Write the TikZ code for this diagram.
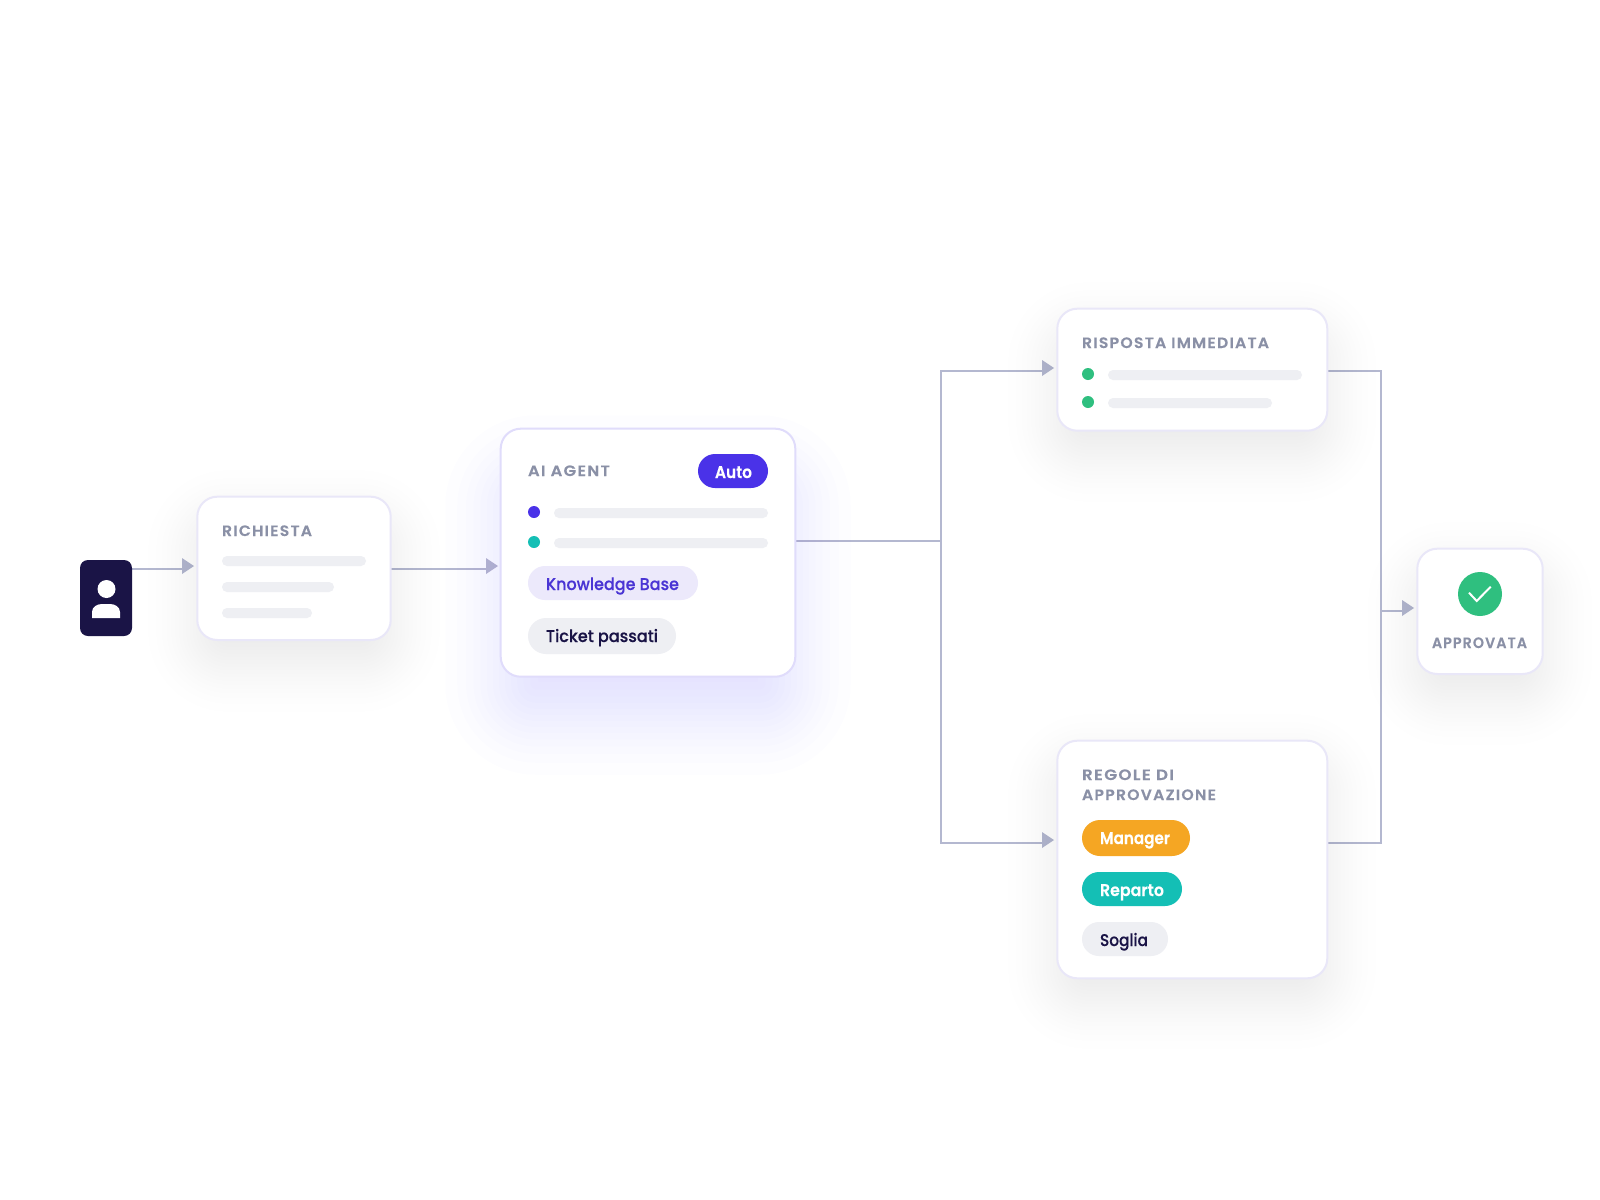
\documentclass[tikz,border=0pt]{standalone}
\usepackage{graphicx}
\usepackage{fontspec}
\setmainfont{Poppins}
\newfontfamily\fsemi{Poppins SemiBold}
\newfontfamily\fmed{Poppins Medium}
\definecolor{wirecol}{HTML}{B4B8D0}
\definecolor{navy}{HTML}{1A1446}
\definecolor{indigo}{HTML}{4A32E8}
\definecolor{indigotxt}{HTML}{4A35D4}
\definecolor{glow}{HTML}{6A32FF}
\definecolor{teal}{HTML}{14BFB5}
\definecolor{grn}{HTML}{2FBF7F}
\definecolor{amber}{HTML}{F5A623}
\definecolor{barcol}{HTML}{EEEFF3}
\definecolor{lilac}{HTML}{ECE9FB}
\definecolor{titlecol}{HTML}{8A90A6}
\definecolor{cardline}{HTML}{E9E7F8}
\definecolor{aiborder}{HTML}{E0DCFB}
\pgfdeclarelayer{wires}
\pgfdeclarelayer{shadows}
\pgfsetlayers{wires,shadows,main}
\tikzset{
  wire/.style={draw=wirecol,line width=1.5pt,line join=miter},
  cardbox/.style={draw=cardline,line width=1.5pt,fill=white},
  aibox/.style={draw=aiborder,line width=1.5pt,fill=white},
  barbox/.style={fill=barcol},
  dot/.style={circle,inner sep=0pt,outer sep=0pt,minimum size=9pt},
}
\newcommand\shapebox[7]{%
  \pgfmathsetmacro\bw{(#4-#2)*0.75}\pgfmathsetmacro\bh{(#5-#3)*0.75}\pgfmathsetmacro\br{#6*0.75}%
  \node[rectangle,inner sep=0pt,outer sep=0pt,minimum width=\bw pt,minimum height=\bh pt,rounded corners=\br pt,#7] (#1) at ({(#2+#4)/2},{(#3+#5)/2}) {};}
\newsavebox\lblbox
\newcommand\lbl[7]{%
  \node[anchor=base west,inner sep=0pt,outer sep=0pt,text=#6] (#1) at (#2,#3) {%
    \sbox\lblbox{#5#7}%
    \pgfmathsetmacro\sx{#4*0.75/\the\wd\lblbox}%
    \scalebox{\sx}[1]{#5#7}};}
\def\shN{24}
% layers spaced so that their sum follows a smoothstep ramp of half-width #8
\newcommand\softshadow[9]{%
  \foreach \k in {1,...,\shN}{%
    \pgfmathsetmacro\pp{(\k-0.5)/\shN}%
    \pgfmathsetmacro\ii{#8*2*sin(asin(1-2*\pp)/3)}%
    \pgfmathsetmacro\rr{max(#5+\ii,1)*0.75}%
    \fill[#6,opacity=#7,rounded corners=\rr pt] ({#1-\ii},{#2-\ii+#9}) rectangle ({#3+\ii},{#4+\ii+#9});
  }}
\newcommand\headtri[3]{% name, base x, centre y
  \coordinate (#1) at (#2,#3);
  \begin{pgfonlayer}{wires}\fill[wirecol] (#1) ++(0,-8) -- ++(12,8) -- ++(-12,8) -- cycle;\end{pgfonlayer}}
\def\ftitle{\fsemi\fontsize{11.25pt}{13.5pt}\selectfont\addfontfeatures{LetterSpace=8,FakeBold=0.25}}
\def\fpill{\fmed\fontsize{12.75pt}{15pt}\selectfont\addfontfeatures{FakeBold=0.25}}
\def\fpillb{\fsemi\fontsize{12.75pt}{15pt}\selectfont\addfontfeatures{FakeBold=0.25}}
\begin{document}
\begin{tikzpicture}[x=0.75pt,y=-0.75pt]
\useasboundingbox (0,0) rectangle (1600,1200);
\begin{pgfonlayer}{wires}\fill[white] (0,0) rectangle (1600,1200);\end{pgfonlayer}
% shadows
\begin{pgfonlayer}{shadows}
  \softshadow{198}{498}{390}{640}{30}{navy}{0.0039}{60}{22}
  \softshadow{1058}{310}{1326}{430}{30}{navy}{0.0039}{60}{22}
  \softshadow{1058}{742}{1326}{977}{30}{navy}{0.0039}{60}{22}
  \softshadow{1418}{550}{1542}{673}{30}{navy}{0.0039}{60}{22}
  \def\shN{16}
  \softshadow{502}{430}{794}{676}{34}{glow}{0.00785}{72}{42}
\end{pgfonlayer}
% user icon
\shapebox{icon}{80}{560}{132}{636}{8}{fill=navy}
\node[circle,fill=white,inner sep=0pt,minimum size=13.5pt] (headc) at (106.5,589) {};
\fill[white] (92,618) -- (92,612) .. controls (92,607) and (97,604) .. (102,604) -- (110,604) .. controls (115,604) and (120,607) .. (120,612) -- (120,618) -- cycle;
% Richiesta
\shapebox{richiesta}{197.3}{496.7}{390.7}{640}{20}{cardbox}
\lbl{tRich}{222}{536}{90}{\ftitle}{titlecol}{RICHIESTA}
\shapebox{b1}{222}{556}{366}{566}{5}{barbox}
\shapebox{b2}{222}{582}{334}{592}{5}{barbox}
\shapebox{b3}{222}{608}{312}{618}{5}{barbox}
% AI agent
\shapebox{ai}{500.7}{428.7}{795.3}{676.7}{20}{aibox}
\lbl{tAI}{528}{476}{82}{\ftitle}{titlecol}{AI AGENT}
\shapebox{pAuto}{698}{454}{768}{488}{17}{fill=indigo}
\lbl{tAuto}{715}{478}{37}{\fpillb}{white}{Auto}
\node[dot,fill=indigo] (dA) at (534,512) {};
\node[dot,fill=teal] (dB) at (534,542) {};
\shapebox{b4}{554}{508}{768}{518}{5}{barbox}
\shapebox{b5}{554}{538}{768}{548}{5}{barbox}
\shapebox{pKB}{528}{566}{698}{600}{17}{fill=lilac}
\lbl{tKB}{546}{590}{133}{\fpill}{indigotxt}{Knowledge Base}
\shapebox{pTP}{528}{618}{676}{654}{18}{fill=barcol}
\lbl{tTP}{546}{642}{112}{\fpill}{navy}{Ticket passati}
% Risposta
\shapebox{risposta}{1057.3}{308.7}{1327.3}{430.7}{20}{cardbox}
\lbl{tRis}{1082}{348}{187}{\ftitle}{titlecol}{RISPOSTA IMMEDIATA}
\node[dot,fill=grn] (dC) at (1088,374) {};
\node[dot,fill=grn] (dD) at (1088,402) {};
\shapebox{b6}{1108}{370}{1302}{380}{5}{barbox}
\shapebox{b7}{1108}{398}{1272}{408}{5}{barbox}
% Regole
\shapebox{regole}{1057.3}{740.7}{1327.3}{978.3}{20}{cardbox}
\lbl{tReg}{1082}{780}{92}{\ftitle}{titlecol}{REGOLE DI}
\lbl{tApp}{1082}{800}{134}{\ftitle}{titlecol}{APPROVAZIONE}
\shapebox{pMan}{1082}{820}{1190}{856}{18}{fill=amber}
\lbl{tMan}{1100}{844}{70}{\fpillb}{white}{Manager}
\shapebox{pRep}{1082}{872}{1182}{906}{17}{fill=teal}
\lbl{tRep}{1100}{896}{64}{\fpillb}{white}{Reparto}
\shapebox{pSog}{1082}{922}{1168}{956}{17}{fill=barcol}
\lbl{tSog}{1100}{946}{48}{\fpill}{navy}{Soglia}
% Approvata
\shapebox{approvata}{1417.3}{548.7}{1542.7}{674}{20}{cardbox}
\node[circle,fill=grn,inner sep=0pt,minimum size=33pt] (okc) at (1480,594) {};
\draw[white,line width=1.5pt] (1469,592.7) -- (1476.7,601) -- (1490.7,586.7);
\lbl{tOk}{1432}{648}{95}{\ftitle}{titlecol}{APPROVATA}
% connectors
\coordinate (yA) at (0,569);
\coordinate (yT) at (0,371);
\coordinate (yB) at (0,843);
\coordinate (yM) at (0,541);
\coordinate (yF) at (0,611);
\coordinate (trunkL) at (941,0);
\coordinate (trunkR) at (1381,0);
\headtri{h1}{182}{566}
\headtri{h2}{486}{566}
\headtri{h3}{1042}{368}
\headtri{h4}{1042}{840}
\headtri{h5}{1402}{608}
\begin{pgfonlayer}{wires}
\draw[wire] (icon.east |- yA) -- (h1 |- yA);
\draw[wire] (richiesta.east |- yA) -- (h2 |- yA);
\draw[wire] (ai.east |- yM) -- (trunkL |- yM);
\draw[wire] (h3 |- yT) -- (trunkL |- yT) -- (trunkL |- yB) -- (h4 |- yB);
\draw[wire] (risposta.east |- yT) -- (trunkR |- yT) -- (trunkR |- yB) -- (regole.east |- yB);
\draw[wire] (trunkR |- yF) -- (h5 |- yF);
\end{pgfonlayer}
\end{tikzpicture}
\end{document}
